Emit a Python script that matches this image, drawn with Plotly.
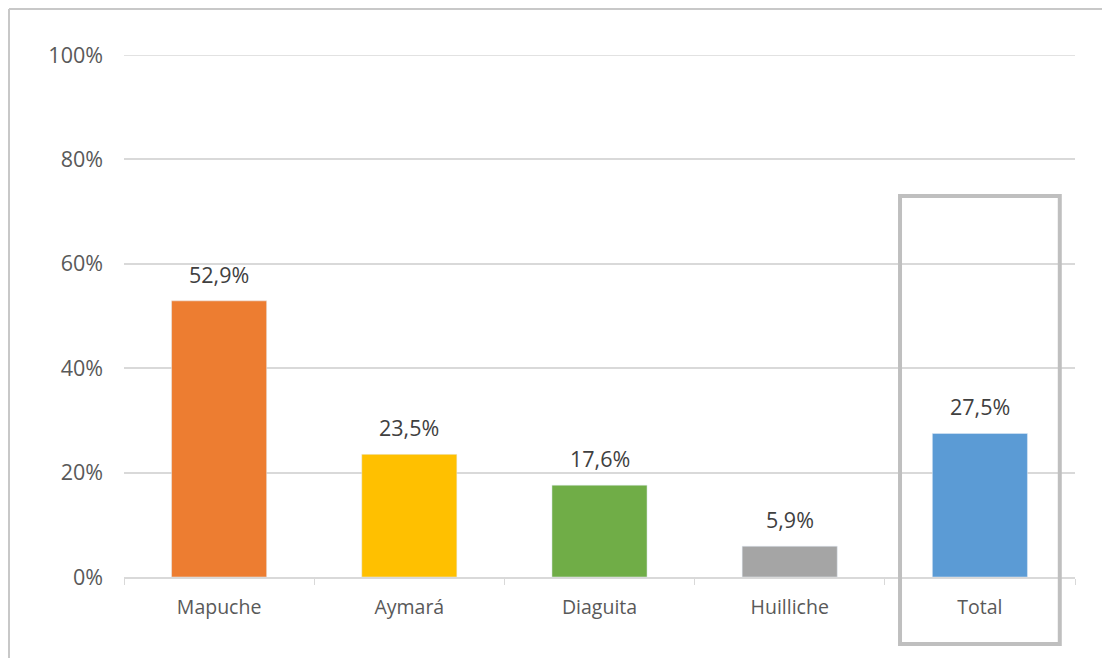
import plotly.graph_objects as go

categories = ["Mapuche", "Aymará", "Diaguita", "Huilliche", "Total"]
values = [52.9, 23.5, 17.6, 5.9, 27.5]
colors = ["#ED7D31", "#FFC000", "#70AD47", "#A5A5A5", "#5B9BD5"]
tick_vals = [0, 20, 40, 60, 80, 100]
tick_text = [f"{v}%" for v in tick_vals]
labels = [f"{v:.1f}".replace(".", ",") + "%" for v in values]

FONT = "Open Sans"

fig = go.Figure(go.Bar(
    x=categories, y=values, marker_color=colors, width=0.5,
))

# page body has an 8px margin; screen coords are offset by 8
OFF = 8
L, R, T = 124 - OFF, 35, 55 - OFF
W, H = 1110 - OFF, 658 - OFF
ph = 522
B = H - T - ph
pw = W - L - R

def px_to_paper_x(px):
    return (px - OFF - L) / pw

def px_to_paper_y(py):
    return (H - B - (py - OFF)) / ph

shapes = [
    dict(type="rect", xref="x", yref="paper", x0=3.58, x1=4.42,
         y0=px_to_paper_y(644), y1=px_to_paper_y(196),
         line=dict(color="#BFBFBF", width=4), fillcolor="rgba(0,0,0,0)", layer="above"),
    dict(type="line", xref="paper", yref="paper", x0=px_to_paper_x(9), x1=px_to_paper_x(9),
         y0=px_to_paper_y(700), y1=px_to_paper_y(9), line=dict(color="#C8C8C8", width=2)),
    dict(type="line", xref="paper", yref="paper", x0=px_to_paper_x(9), x1=px_to_paper_x(1200),
         y0=px_to_paper_y(9), y1=px_to_paper_y(9), line=dict(color="#C8C8C8", width=2)),
    # top gridline (plotly drops grid lines at the range edge)
    dict(type="line", xref="paper", yref="y", x0=0, x1=1, y0=tick_vals[-1], y1=tick_vals[-1],
         line=dict(color="#D9D9D9", width=1.5), layer="below"),
]

annotations = [
    dict(x=c, y=v, xref="x", yref="y", text=t, showarrow=False,
         yanchor="bottom", yshift=10,
         font=dict(size=21.5, color="#404040", family=FONT))
    for c, v, t in zip(categories, values, labels)
]

fig.update_layout(
    width=W, height=H, margin=dict(l=L, r=R, t=T, b=B),
    paper_bgcolor="white", plot_bgcolor="white",
    showlegend=False, shapes=shapes, annotations=annotations,
    font=dict(family=FONT, color="#595959"),
)
fig.update_xaxes(
    showline=True, linecolor="#D9D9D9", linewidth=2,
    ticks="outside", tickson="boundaries", ticklen=6, tickcolor="#D9D9D9",
    ticklabelstandoff=12,
    tickfont=dict(size=19.5, color="#595959"), showgrid=False,
)
fig.update_yaxes(
    range=[0, 100], tickvals=tick_vals, ticktext=tick_text,
    showgrid=True, gridcolor="#D9D9D9", gridwidth=1.5,
    zeroline=False, showline=False, ticks="",
    ticklabelstandoff=20,
    tickfont=dict(size=21.5, color="#595959"),
)

fig.write_html("out.html")
